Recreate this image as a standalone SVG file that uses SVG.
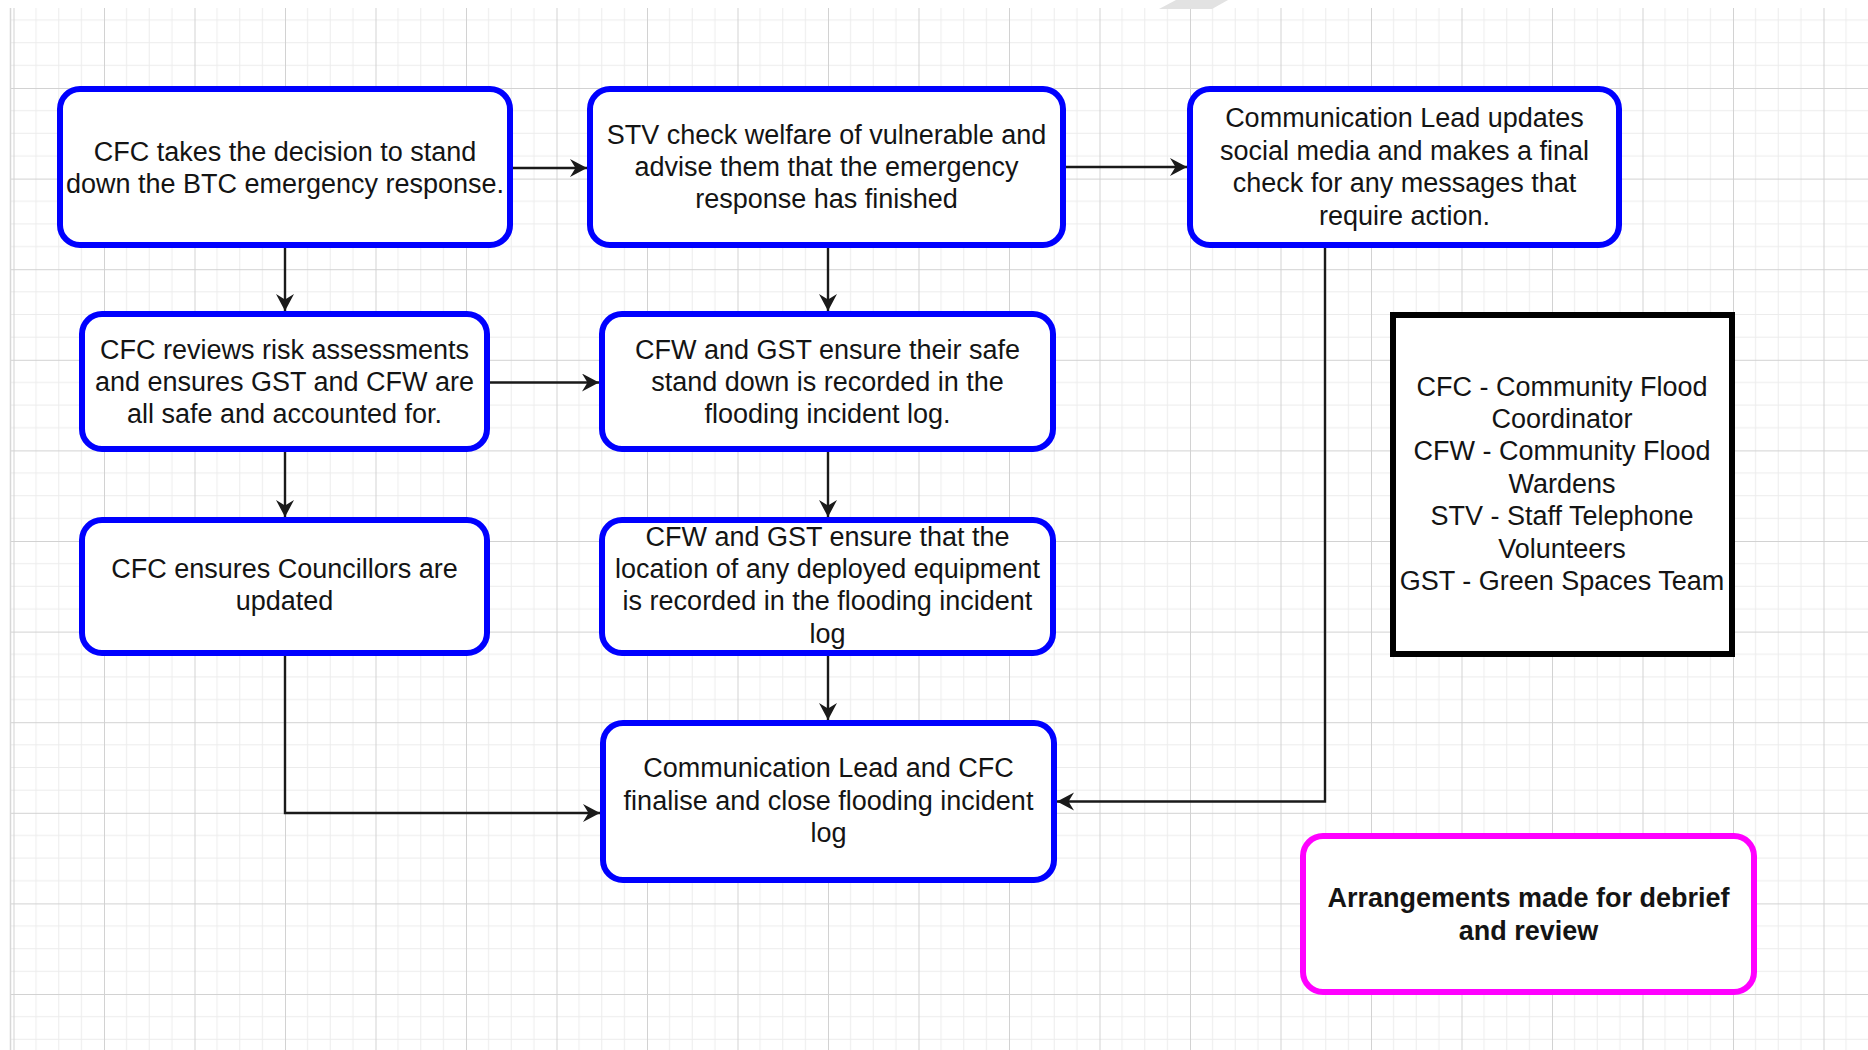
<svg xmlns="http://www.w3.org/2000/svg" width="1868" height="1050" viewBox="0 0 1868 1050">
  <defs>
    <pattern id="grid" patternUnits="userSpaceOnUse" x="13.5" y="-2.6" width="90.5" height="90.6">
      <path d="M22.6,0 V90.6 M45.25,0 V90.6 M67.9,0 V90.6 M0,22.65 H90.5 M0,45.3 H90.5 M0,67.95 H90.5" stroke="#ececec" stroke-width="1" fill="none"/>
      <path d="M0.5,0 V90.6 M0,0.5 H90.5" stroke="#d2d2d2" stroke-width="1" fill="none"/>
    </pattern>
    <marker id="arrow" markerUnits="userSpaceOnUse" markerWidth="20" markerHeight="20" refX="17" refY="9" orient="auto">
      <path d="M0,0 L17,9 L0,18 L5.5,9 Z" fill="#1a1a1a"/>
    </marker>
    <style>
      .step rect { fill: #ffffff; stroke: #0000ff; stroke-width: 6; }
      .legend rect { fill: #ffffff; stroke: #000000; stroke-width: 6; }
      .final rect { fill: #ffffff; stroke: #ff00ff; stroke-width: 6; }
      text { font-family: "Liberation Sans", Arial, sans-serif; font-size: 27px; fill: #141414; text-anchor: middle; }
      .bold { font-weight: bold; }
      .conn path { fill: none; stroke: #1a1a1a; stroke-width: 2.4; marker-end: url(#arrow); }
    </style>
  </defs>

  <rect x="0" y="0" width="1868" height="1050" fill="#ffffff"/>
  <rect x="10" y="8" width="1858" height="1042" fill="url(#grid)"/>
  <line x1="10.5" y1="8" x2="10.5" y2="1050" stroke="#d8d8d8" stroke-width="1.5"/>
  <polygon points="1159,9 1176,0 1228,0 1212,9" fill="#e2e2e2"/>

  <g id="connectors" class="conn">
    <path d="M513,168 L587,168"/>
    <path d="M1066,167 L1187,167"/>
    <path d="M285,248 L285,311"/>
    <path d="M828,248 L828,311"/>
    <path d="M490,382.5 L599,382.5"/>
    <path d="M285,452 L285,517"/>
    <path d="M828,452 L828,517"/>
    <path d="M828,656 L828,720"/>
    <path d="M285,656 L285,813 L600,813"/>
    <path d="M1325,248 L1325,801.5 L1057,801.5"/>
  </g>

  <g id="n1" class="step">
    <rect x="60" y="89" width="450" height="156" rx="20"/>
    <text x="285" y="161">CFC takes the decision to stand</text>
    <text x="285" y="193.4">down the BTC emergency response.</text>
  </g>

  <g id="n2" class="step">
    <rect x="590" y="89" width="473" height="156" rx="20"/>
    <text x="826.5" y="143.5">STV check welfare of vulnerable and</text>
    <text x="826.5" y="175.9">advise them that the emergency</text>
    <text x="826.5" y="208.3">response has finished</text>
  </g>

  <g id="n3" class="step">
    <rect x="1190" y="89" width="429" height="156" rx="20"/>
    <text x="1404.5" y="127.3">Communication Lead updates</text>
    <text x="1404.5" y="159.7">social media and makes a final</text>
    <text x="1404.5" y="192.1">check for any messages that</text>
    <text x="1404.5" y="224.5">require action.</text>
  </g>

  <g id="n4" class="step">
    <rect x="82" y="314" width="405" height="135" rx="20"/>
    <text x="284.5" y="358.5">CFC reviews risk assessments</text>
    <text x="284.5" y="390.9">and ensures GST and CFW are</text>
    <text x="284.5" y="423.3">all safe and accounted for.</text>
  </g>

  <g id="n5" class="step">
    <rect x="82" y="520" width="405" height="133" rx="20"/>
    <text x="284.5" y="577.5">CFC ensures Councillors are</text>
    <text x="284.5" y="609.9">updated</text>
  </g>

  <g id="n6" class="step">
    <rect x="602" y="314" width="451" height="135" rx="20"/>
    <text x="827.5" y="358.5">CFW and GST ensure their safe</text>
    <text x="827.5" y="390.9">stand down is recorded in the</text>
    <text x="827.5" y="423.3">flooding incident log.</text>
  </g>

  <g id="n7" class="step">
    <rect x="602" y="520" width="451" height="133" rx="20"/>
    <text x="827.5" y="545.5">CFW and GST ensure that the</text>
    <text x="827.5" y="577.9">location of any deployed equipment</text>
    <text x="827.5" y="610.3">is recorded in the flooding incident</text>
    <text x="827.5" y="642.7">log</text>
  </g>

  <g id="n8" class="step">
    <rect x="603" y="723" width="451" height="157" rx="20"/>
    <text x="828.5" y="777.3">Communication Lead and CFC</text>
    <text x="828.5" y="809.7">finalise and close flooding incident</text>
    <text x="828.5" y="842.1">log</text>
  </g>

  <g id="legend" class="legend">
    <rect x="1393" y="315" width="339" height="339"/>
    <text x="1562" y="395.5">CFC - Community Flood</text>
    <text x="1562" y="427.9">Coordinator</text>
    <text x="1562" y="460.3">CFW - Community Flood</text>
    <text x="1562" y="492.7">Wardens</text>
    <text x="1562" y="525.1">STV - Staff Telephone</text>
    <text x="1562" y="557.5">Volunteers</text>
    <text x="1562" y="589.9">GST - Green Spaces Team</text>
  </g>

  <g id="debrief" class="final">
    <rect x="1303" y="836" width="451" height="156" rx="20"/>
    <text class="bold" x="1528.5" y="907.2">Arrangements made for debrief</text>
    <text class="bold" x="1528.5" y="939.6">and review</text>
  </g>
</svg>
